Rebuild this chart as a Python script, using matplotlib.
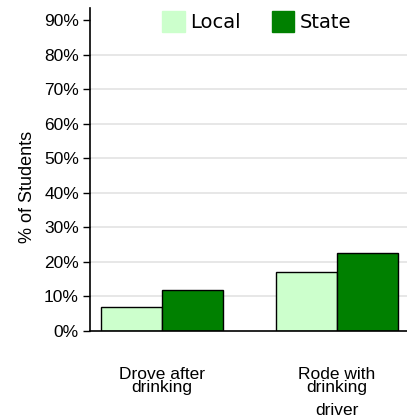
import matplotlib.pyplot as plt
import numpy as np
from matplotlib.patches import Patch

categories = ['Drove after\ndrinking', 'Rode with\ndrinking']
local = [7.0, 17.1]
state = [11.9, 22.6]
yticks = [0, 10, 20, 30, 40, 50, 60, 70, 80, 90]

local_color = '#ccffcc'
state_color = '#008000'

fig = plt.figure(figsize=(4.07, 4.17), dpi=100)
ax = fig.add_axes([90 / 407, 86 / 417, 317 / 407, 323 / 417])

x = np.arange(len(categories))
w = 0.35
for v in yticks[1:-1]:
    ax.axhline(v, color='#e3e3e3', lw=1.2, zorder=0)
ax.bar(x - w / 2, local, w, color=local_color, edgecolor='black', lw=1, zorder=2)
ax.bar(x + w / 2, state, w, color=state_color, edgecolor='black', lw=1, zorder=2)

ax.set_xlim(-0.411, 1.4)
ax.set_ylim(0, 93.5)
ax.set_yticks(yticks)
ax.set_yticklabels([f'{v}%' for v in yticks], family='Liberation Sans', fontsize=12.5)
ax.set_xticks(x)
ax.set_xticklabels(categories, family='Liberation Sans', fontsize=12.5, linespacing=0.85)
ax.tick_params(axis='x', length=0, pad=26)
ax.tick_params(axis='y', length=5, width=1, pad=3)
ax.text(1, -0.245, 'driver', transform=ax.get_xaxis_transform(), ha='center', va='center',
        family='Liberation Sans', fontsize=12.5)

for s in ['top', 'right']:
    ax.spines[s].set_visible(False)
ax.spines['left'].set_linewidth(1.2)
ax.spines['bottom'].set_linewidth(1.2)

ax.set_ylabel('% of Students', family='Liberation Sans', fontsize=13)
ax.yaxis.set_label_coords(-0.17, 0.446)

handles = [Patch(color=local_color, label='Local'), Patch(color=state_color, label='State')]
fig.legend(handles=handles, loc='upper center', bbox_to_anchor=(0.631, 1.015), ncol=2, frameon=False,
           fontsize=14, handlelength=1.15, handleheight=1.3, handletextpad=0.3, columnspacing=1.58)

fig.savefig('out.png', dpi=100)
